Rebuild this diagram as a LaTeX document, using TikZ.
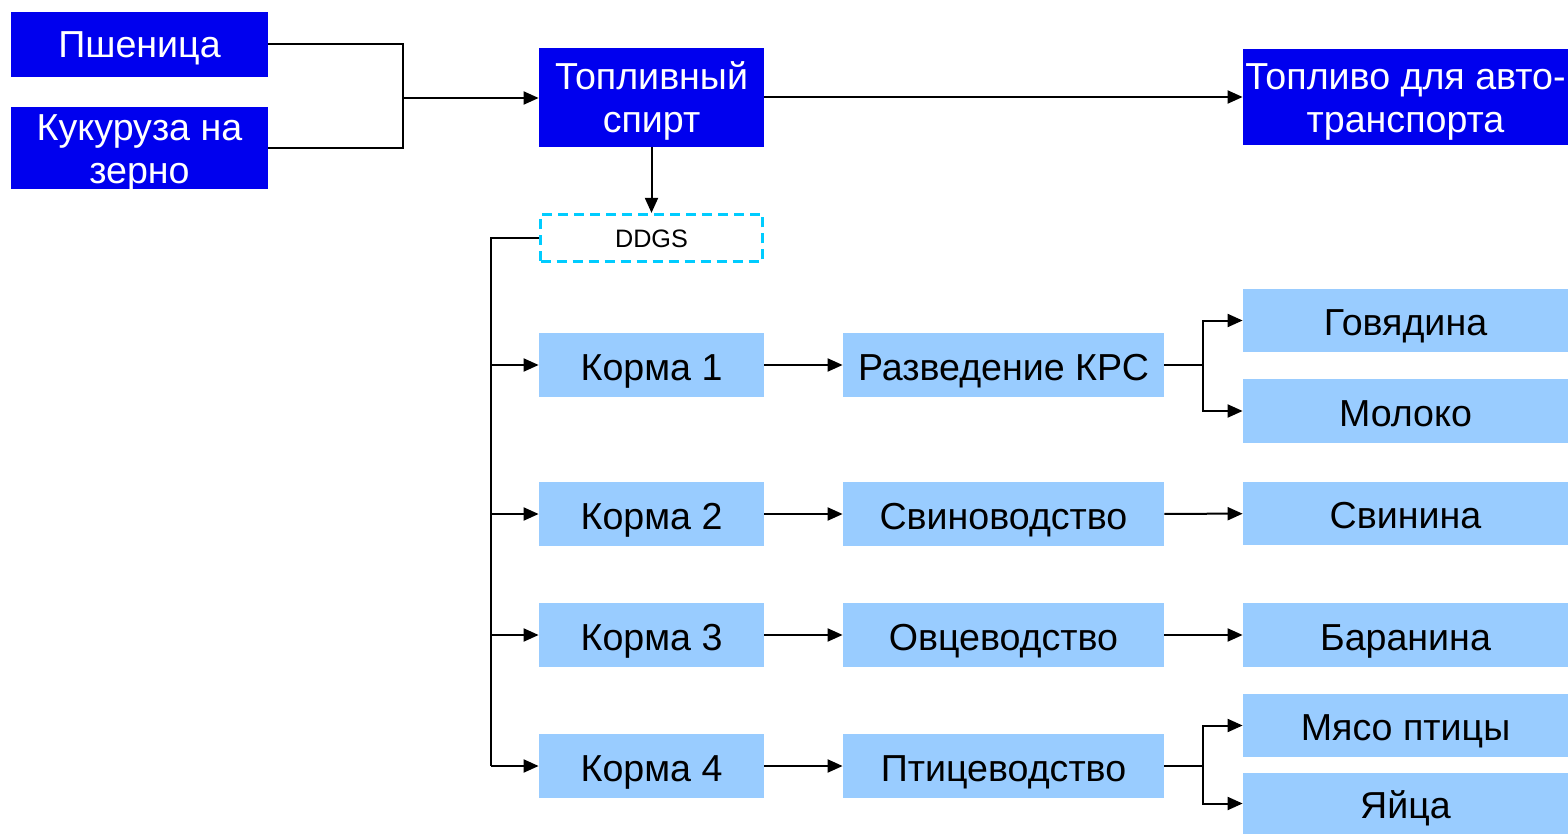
\documentclass[tikz,border=0pt]{standalone}
\usepackage{fontspec}
\setmainfont{Liberation Sans}
\usepackage{tikz}
\usetikzlibrary{arrows.meta, positioning}
\definecolor{darkblue}{RGB}{0, 0, 238}
\definecolor{lightblue}{RGB}{153, 204, 255}
\definecolor{ddgscyan}{RGB}{0, 204, 255}

\begin{document}
\begin{tikzpicture}[
    x=0.5pt, y=-0.5pt,
    base/.style={rectangle, inner sep=0pt, align=center, text height=15pt, text depth=0pt,
        font=\fontsize{18.8}{21.5}\selectfont},
    twolines/.style={text height=35.5pt},
    srcbox/.style={base, fill=darkblue, text=white},
    lightbox/.style={base, fill=lightblue, text=black, minimum height=32pt},
    dashbox/.style={base, draw=ddgscyan, line width=1.6pt, dash pattern=on 5pt off 3pt, fill=white,
        text height=10pt, font=\fontsize{12.6}{15}\selectfont},
    arr/.style={draw=black, line width=1pt, -{Triangle[length=7.5pt, width=6.5pt]}},
    ln/.style={draw=black, line width=1pt}
]
    \useasboundingbox (0,0) rectangle (1568,834);

    % grain and fuel
    \node [srcbox, text height=13.5pt, minimum width=128.5pt, minimum height=32.5pt] (wheat) at (139.5, 44.5) {Пшеница};
    \node [srcbox, twolines, minimum width=128.5pt, minimum height=41pt] (corn) at (139.5, 148) {Кукуруза на\\зерно};
    \node [srcbox, twolines, minimum width=112.5pt, minimum height=49.5pt] (spirit) at (651.5, 97.5) {Топливный\\спирт};
    \node [srcbox, twolines, minimum width=162.5pt, minimum height=48pt] (fuel) at (1405.5, 97) {Топливо для авто-\\транспорта};
    \node [dashbox, minimum width=111pt, minimum height=23.5pt] (ddgs) at (651.5, 238) {DDGS};

    % feeds
    \foreach \i/\y in {1/365, 2/514, 3/635, 4/766}
        \node [lightbox, minimum width=112.5pt] (feed\i) at (651.5, \y) {Корма \i};

    % livestock
    \node [lightbox, minimum width=160.5pt] (cattle) at (1003.5, 365) {Разведение КРС};
    \node [lightbox, minimum width=160.5pt] (pigs) at (1003.5, 514) {Свиноводство};
    \node [lightbox, minimum width=160.5pt] (sheep) at (1003.5, 635) {Овцеводство};
    \node [lightbox, minimum width=160.5pt] (poultry) at (1003.5, 766) {Птицеводство};

    % products
    \node [lightbox, minimum width=162.5pt, minimum height=31.5pt] (beef) at (1405.5, 320.5) {Говядина};
    \node [lightbox, minimum width=162.5pt] (milk) at (1405.5, 411) {Молоко};
    \node [lightbox, minimum width=162.5pt, minimum height=31.5pt] (pork) at (1405.5, 513.5) {Свинина};
    \node [lightbox, minimum width=162.5pt] (mutton) at (1405.5, 635) {Баранина};
    \node [lightbox, minimum width=162.5pt, minimum height=31.5pt] (chicken) at (1405.5, 725.5) {Мясо птицы};
    \node [lightbox, minimum width=162.5pt, minimum height=30.5pt] (eggs) at (1405.5, 803.5) {Яйца};

    \coordinate (grainjoin) at (403, 98);
    \coordinate (feedbus) at (491, 238);
    \coordinate (cattlejoin) at (1203, 365);
    \coordinate (poultryjoin) at (1203, 766);

    \draw [ln] (wheat.east) -| (grainjoin);
    \draw [ln] (corn.east) -| (grainjoin);
    \draw [arr] (grainjoin) -- (spirit.west |- grainjoin);
    \draw [arr] (spirit.east |- fuel.west) -- (fuel.west);
    \draw [arr] (spirit) -- (ddgs);

    \draw [ln] (ddgs.west) -- (feedbus) -- (feedbus |- feed4);
    \foreach \i in {1,...,4}
        \draw [arr] (feedbus |- feed\i) -- (feed\i);

    \draw [arr] (feed1) -- (cattle);
    \draw [arr] (feed2) -- (pigs);
    \draw [arr] (feed3) -- (sheep);
    \draw [arr] (feed4) -- (poultry);

    \draw [ln] (cattle.east) -- (cattlejoin);
    \draw [arr] (cattlejoin) |- (beef.west);
    \draw [arr] (cattlejoin) |- (milk.west);
    \draw [arr] (pigs) -- (pork);
    \draw [arr] (sheep) -- (mutton);
    \draw [ln] (poultry.east) -- (poultryjoin);
    \draw [arr] (poultryjoin) |- (chicken.west);
    \draw [arr] (poultryjoin) |- (eggs.west);

\end{tikzpicture}
\end{document}
